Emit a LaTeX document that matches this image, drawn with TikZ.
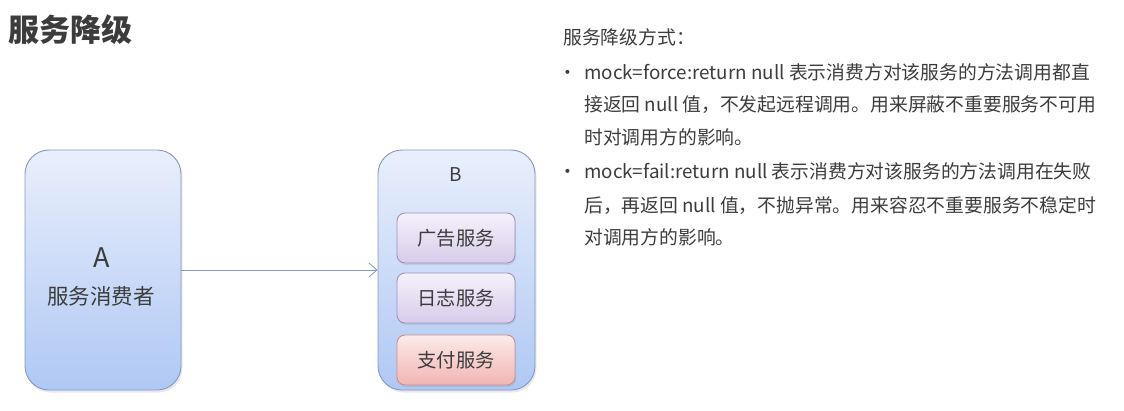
\documentclass[tikz,border=0pt]{standalone}
\usepackage{fontspec}
\setmainfont{Noto Sans CJK SC}
\usetikzlibrary{arrows.meta,shadows}
\definecolor{txt}{HTML}{3C3C3C}
\definecolor{bluetop}{HTML}{E9EFFC}
\definecolor{bluebot}{HTML}{AFC8F4}
\definecolor{blueline}{HTML}{8199C6}
\definecolor{purtop}{HTML}{F5F1FB}
\definecolor{purbot}{HTML}{D7CCEA}
\definecolor{purline}{HTML}{9D90C2}
\definecolor{redtop}{HTML}{FCEAEA}
\definecolor{redbot}{HTML}{F1B5B3}
\definecolor{redline}{HTML}{CB8E8E}
\tikzset{
  bigbox/.style={draw=blueline, line width=0.9pt, rounded corners=24pt, top color=bluetop, bottom color=bluebot,
    drop shadow={opacity=0.18, shadow xshift=1.5pt, shadow yshift=-2.5pt}},
  svc/.style={draw=purline, line width=0.9pt, rounded corners=8pt, top color=purtop, bottom color=purbot,
    minimum width=118pt, minimum height=50pt, text=txt, font=\fontsize{19.3}{19.3}\selectfont,
    drop shadow={opacity=0.18, shadow xshift=1pt, shadow yshift=-2pt}},
  svcred/.style={svc, draw=redline, top color=redtop, bottom color=redbot},
  body/.style={anchor=base west, inner sep=0pt, text=txt, font=\fontsize{18.8}{18.8}\selectfont},
  bul/.style={anchor=base, inner sep=0pt, text=txt, font=\fontsize{18.8}{18.8}\selectfont},
  conn/.style={draw=blueline, line width=0.8pt, -{Straight Barb[length=8pt,width=14pt]}},
}
\begin{document}
\begin{tikzpicture}[x=1pt,y=-1pt]
\useasboundingbox (0,0) rectangle (1124,410);
\node[anchor=west, inner sep=0pt, text=txt, font=\fontsize{31}{31}\selectfont\bfseries] (title) at (8,30) {服务降级};
% A
\node[bigbox, minimum width=156pt, minimum height=240pt] (A) at (103,270) {};
\node[text=txt, font=\fontsize{27}{27}\selectfont] (Alab) at (102,258) {A};
\node[text=txt, font=\fontsize{21.5}{21.5}\selectfont] (Adesc) at (101,296) {服务消费者};
% B
\node[bigbox, minimum width=157pt, minimum height=240pt] (B) at (456.5,270) {};
\node[text=txt, font=\fontsize{19}{19}\selectfont] (Blab) at (456,175) {B};
\node[svc] (s1) at (456,238) {广告服务};
\node[svc] (s2) at (456,298) {日志服务};
\node[svcred] (s3) at (456,360) {支付服务};
\draw[conn] (A) -- (B);
% text
\node[body] (h) at (563,44) {服务降级方式：};
\node[bul] (b1) at (568,79) {•};
\node[body] (l1) at (584,79) {mock=force:return null 表示消费方对该服务的方法调用都直};
\node[body] (l2) at (584,111) {接返回 null 值，不发起远程调用。用来屏蔽不重要服务不可用};
\node[body] (l3) at (584,144) {时对调用方的影响。};
\node[bul] (b2) at (568,178) {•};
\node[body] (l4) at (584,178) {mock=fail:return null 表示消费方对该服务的方法调用在失败};
\node[body] (l5) at (584,212) {后，再返回 null 值，不抛异常。用来容忍不重要服务不稳定时};
\node[body] (l6) at (584,244) {对调用方的影响。};
\end{tikzpicture}
\end{document}
